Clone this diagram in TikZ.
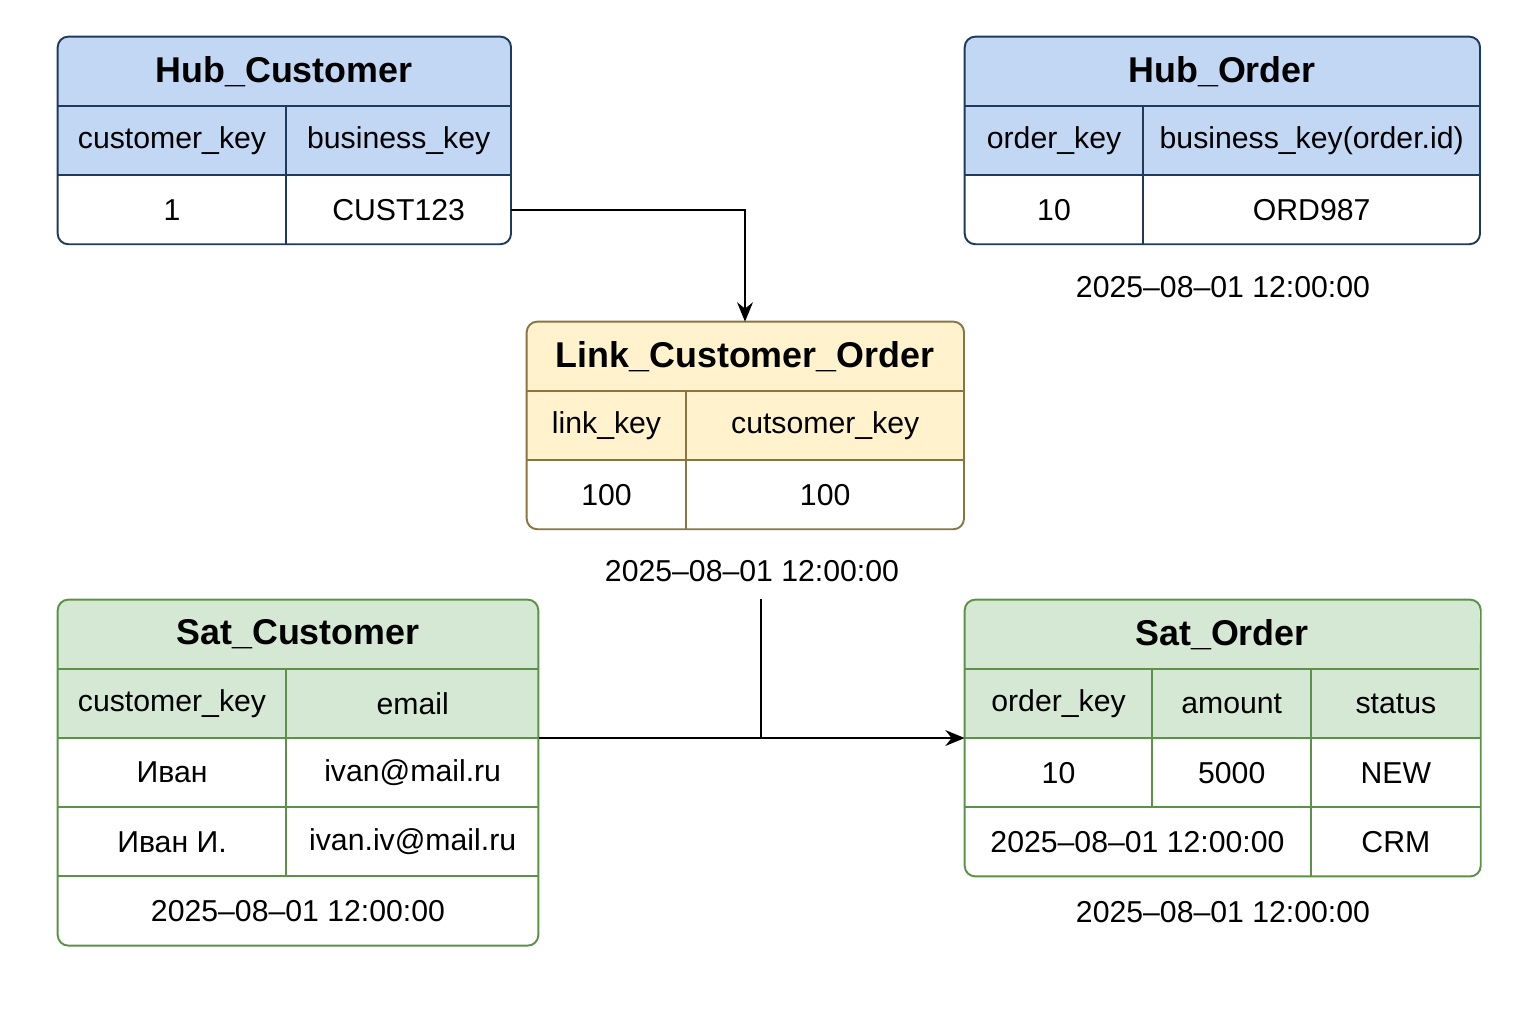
\documentclass[tikz,border=0pt]{standalone}
\usepackage{fontspec}
\setmainfont{Liberation Sans}
\usepackage{tikz}
\usetikzlibrary{positioning, arrows.meta, backgrounds}
\definecolor{hubfill}{HTML}{C2D7F4}
\definecolor{hubline}{HTML}{1E3A5C}
\definecolor{linkfill}{HTML}{FFF2CC}
\definecolor{linkline}{HTML}{8A7440}
\definecolor{satfill}{HTML}{D5E8D4}
\definecolor{satline}{HTML}{5A9248}
\tikzset{
x=0.02cm, y=-0.02cm, % one unit is one pixel of the sketch, y runs downwards
>={Stealth[length=11pt, width=9pt]}, % filled arrow heads
cellbox/.style={inner sep=0pt, minimum height=1.37cm, font=\fontsize{17.2}{20}\selectfont}, % one cell of a table
tabtitle/.style={cellbox, font=\fontsize{20.4}{24}\selectfont\bfseries}, % title row of a table
stamp/.style={inner sep=0pt, font=\fontsize{17.2}{20}\selectfont}, % load date under a table
tabframe/.style={draw, rounded corners=6pt, line width=1.1pt}, % outer frame of a table
cellrule/.style={line width=1.1pt}, % lines between the cells
connector/.style={line width=1.1pt, black}, % lines between the tables
}

\begin{document}
\begin{tikzpicture}
    \useasboundingbox (0,0) rectangle (1536,1024);

    % Hub_Customer
    \node[tabtitle, minimum width=9.04cm] (hc) at (284,71.25) {Hub\_Customer};
    \node[cellbox, minimum width=4.56cm, below right=0pt of hc.south west] (hc-ck) {customer\_key};
    \node[cellbox, minimum width=4.48cm, right=0pt of hc-ck] (hc-bk) {business\_key};
    \node[cellbox, minimum width=4.56cm, below=0pt of hc-ck] (hc-id) {1};
    \node[cellbox, minimum width=4.48cm, below=0pt of hc-bk] (hc-bv) {CUST123};

    % Hub_Order
    \node[tabtitle, minimum width=10.28cm] (ho) at (1222,71.25) {Hub\_Order};
    \node[cellbox, minimum width=3.56cm, below right=0pt of ho.south west] (ho-ok) {order\_key};
    \node[cellbox, minimum width=6.72cm, right=0pt of ho-ok] (ho-bk) {business\_key(order.id)};
    \node[cellbox, minimum width=3.56cm, below=0pt of ho-ok] (ho-id) {10};
    \node[cellbox, minimum width=6.72cm, below=0pt of ho-bk] (ho-bv) {ORD987};
    \node[stamp] (ho-ts) at (1223,287) {2025--08--01 12:00:00};

    % Link_Customer_Order
    \node[tabtitle, minimum width=8.72cm] (lco) at (745,356.25) {Link\_Customer\_Order};
    \node[cellbox, minimum width=3.18cm, below right=0pt of lco.south west] (lco-lk) {link\_key};
    \node[cellbox, minimum width=5.54cm, right=0pt of lco-lk] (lco-ck) {cutsomer\_key};
    \node[cellbox, minimum width=3.18cm, below=0pt of lco-lk] (lco-lv) {100};
    \node[cellbox, minimum width=5.54cm, below=0pt of lco-ck] (lco-cv) {100};
    \node[stamp] (lco-ts) at (752,571) {2025--08--01 12:00:00};

    % Sat_Customer
    \node[tabtitle, minimum width=9.6cm] (sc) at (298,634.25) {Sat\_Customer};
    \node[cellbox, minimum width=4.56cm, below right=0pt of sc.south west] (sc-ck) {customer\_key};
    \node[cellbox, minimum width=5.04cm, right=0pt of sc-ck] (sc-em) {email};
    \node[cellbox, minimum width=4.56cm, below=0pt of sc-ck] (sc-n1) {Иван};
    \node[cellbox, minimum width=5.04cm, below=0pt of sc-em] (sc-e1) {ivan@mail.ru};
    \node[cellbox, minimum width=4.56cm, below=0pt of sc-n1] (sc-n2) {Иван И.};
    \node[cellbox, minimum width=5.04cm, below=0pt of sc-e1] (sc-e2) {ivan.iv@mail.ru};
    \node[cellbox, minimum width=9.6cm, below right=0pt of sc-n2.south west] (sc-ts) {2025--08--01 12:00:00};

    % Sat_Order
    \node[tabtitle, minimum width=10.28cm] (so) at (1222,634.25) {Sat\_Order};
    \node[cellbox, minimum width=3.74cm, below right=0pt of so.south west] (so-ok) {order\_key};
    \node[cellbox, minimum width=3.16cm, right=0pt of so-ok] (so-am) {amount};
    \node[cellbox, minimum width=3.38cm, right=0pt of so-am] (so-st) {status};
    \node[cellbox, minimum width=3.74cm, below=0pt of so-ok] (so-id) {10};
    \node[cellbox, minimum width=3.16cm, below=0pt of so-am] (so-av) {5000};
    \node[cellbox, minimum width=3.38cm, below=0pt of so-st] (so-sv) {NEW};
    \node[cellbox, minimum width=6.9cm, below right=0pt of so-id.south west] (so-dt) {2025--08--01 12:00:00};
    \node[cellbox, minimum width=3.38cm, below=0pt of so-sv] (so-src) {CRM};
    \node[stamp] (so-ts) at (1223,912) {2025--08--01 12:00:00};

    % coloured heads
    \begin{scope}[on background layer]
        \fill[hubfill] (hc-ck.south west) [rounded corners=6pt] -- (hc.north west) -- (hc.north east) [sharp corners] -- (hc-bk.south east) -- cycle;
        \fill[hubfill] (ho-ok.south west) [rounded corners=6pt] -- (ho.north west) -- (ho.north east) [sharp corners] -- (ho-bk.south east) -- cycle;
        \fill[linkfill] (lco-lk.south west) [rounded corners=6pt] -- (lco.north west) -- (lco.north east) [sharp corners] -- (lco-ck.south east) -- cycle;
        \fill[satfill] (sc-ck.south west) [rounded corners=6pt] -- (sc.north west) -- (sc.north east) [sharp corners] -- (sc-em.south east) -- cycle;
        \fill[satfill] (so-ok.south west) [rounded corners=6pt] -- (so.north west) -- (so.north east) [sharp corners] -- (so-st.south east) -- cycle;
    \end{scope}

    % cell lines and frames
    \draw[cellrule, hubline] (hc.south west) -- (hc.south east) (hc-ck.south west) -- (hc-bk.south east) (hc-ck.north east) -- (hc-id.south east);
    \draw[tabframe, hubline] (hc.north west) rectangle (hc-bv.south east);
    \draw[cellrule, hubline] (ho.south west) -- (ho.south east) (ho-ok.south west) -- (ho-bk.south east) (ho-ok.north east) -- (ho-id.south east);
    \draw[tabframe, hubline] (ho.north west) rectangle (ho-bv.south east);
    \draw[cellrule, linkline] (lco.south west) -- (lco.south east) (lco-lk.south west) -- (lco-ck.south east) (lco-lk.north east) -- (lco-lv.south east);
    \draw[tabframe, linkline] (lco.north west) rectangle (lco-cv.south east);
    \draw[cellrule, satline] (sc.south west) -- (sc.south east) (sc-ck.south west) -- (sc-em.south east)
        (sc-n1.south west) -- (sc-e1.south east) (sc-n2.south west) -- (sc-e2.south east) (sc-ck.north east) -- (sc-n2.south east);
    \draw[tabframe, satline] (sc.north west) rectangle (sc-ts.south east);
    \draw[cellrule, satline] (so.south west) -- (so.south east) (so-ok.south west) -- (so-st.south east)
        (so-id.south west) -- (so-sv.south east) (so-ok.north east) -- (so-id.south east) (so-am.north east) -- (so-src.south west);
    \draw[tabframe, satline] (so.north west) rectangle (so-src.south east);

    % connectors
    \coordinate (tap) at (761,599);
    \draw[connector, ->] (hc-bv.east) -| (lco.north);
    \draw[connector, ->] (sc-em.south east) -- (so-ok.south west);
    \draw[connector] (tap) -- (tap |- sc-em.south east);
\end{tikzpicture}
\end{document}
